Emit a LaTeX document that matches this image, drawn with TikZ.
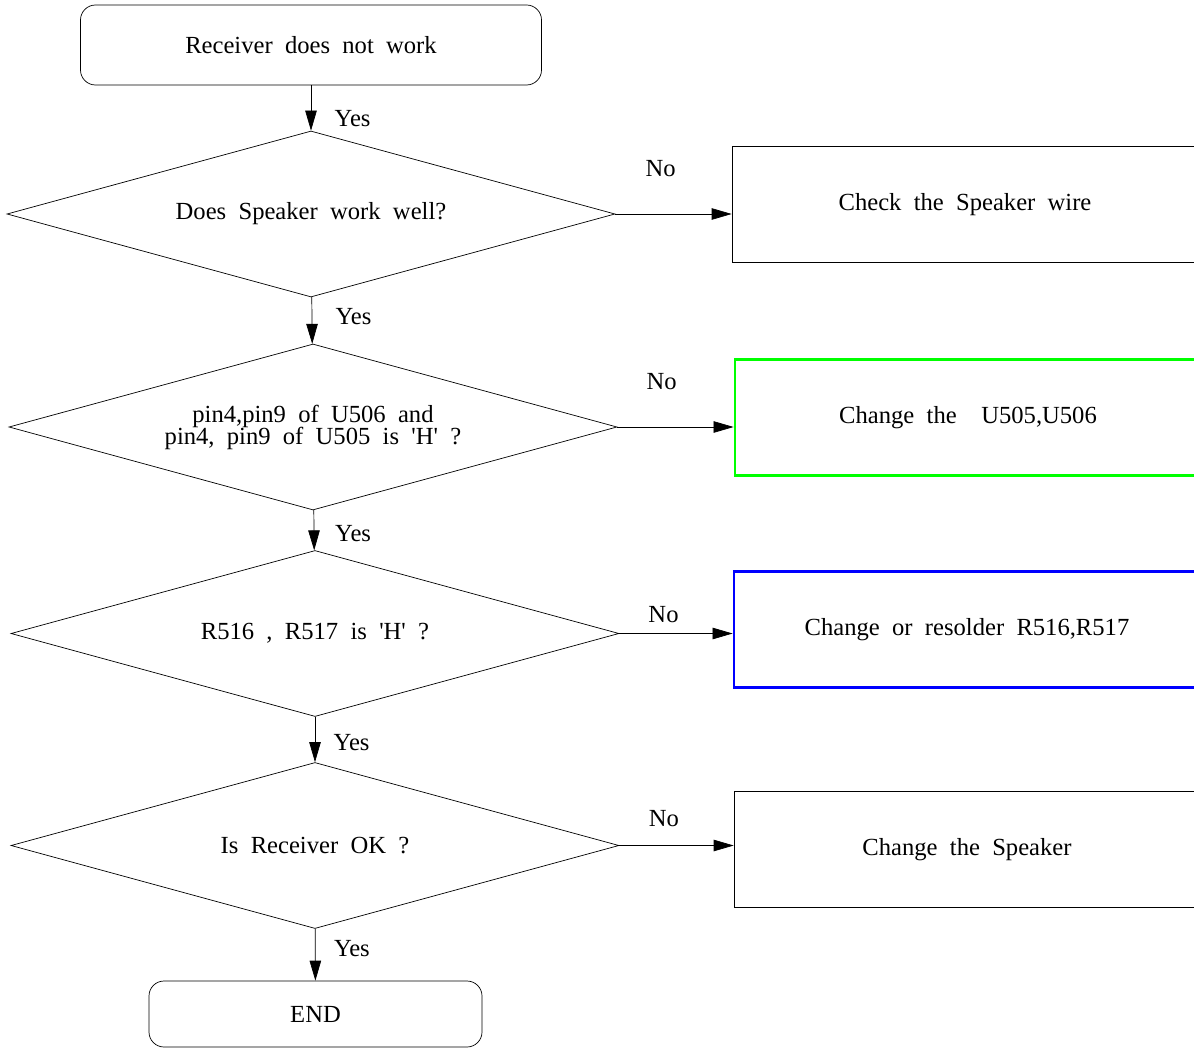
\documentclass[tikz,border=0pt]{standalone}
\usepackage{fontspec}
\setmainfont[WordSpace=2]{Liberation Serif}
\usepackage{tikz}
\usetikzlibrary{shapes.geometric, positioning, arrows.meta, calc}
\newcommand\tightlines{\lineskiplimit -8pt\relax}

\begin{document}
\begin{tikzpicture}[
            term/.style={rectangle, rounded corners=0.3cm, draw, thin,
                         font=\fontsize{14}{16}\selectfont, align=center},
            test/.style={diamond, draw, thin, inner sep=0pt, aspect=3.66,
                         minimum width=12.16cm, minimum height=3.32cm,
                         font=\fontsize{14}{12.5}\selectfont\tightlines, align=center},
            fix/.style={rectangle, draw, minimum width=9.32cm, minimum height=2.32cm,
                        font=\fontsize{14}{16}\selectfont, align=center},
            arr/.style={-{Triangle[length=4mm, width=2.3mm]}, thin},
            lbl/.style={font=\fontsize{14}{16}\selectfont}
          ]
          \clip (0,0) rectangle (23.88,-20.96);
          % start / end
          \node[term, minimum width=9.22cm, minimum height=1.6cm] (start) at (6.22,-0.9) {Receiver does not work};
          \node[term, minimum width=6.66cm, minimum height=1.32cm] (fin) at (6.31,-20.28) {END};
          % checks
          \node[test] (spk)  at (6.22,-4.28)  {Does Speaker work well?};
          \node[test] (pins) at (6.26,-8.54)  {pin4,pin9 of U506 and\\pin4, pin9 of U505 is \textquotesingle H\textquotesingle\ ?};
          \node[test] (res)  at (6.30,-12.67) {R516 , R517 is \textquotesingle H\textquotesingle\ ?};
          \node[test] (rcv)  at (6.30,-16.91) {Is Receiver OK ?};
          % repairs
          \node[fix] (wire)  at (19.30,-4.09)  {Check the Speaker wire};
          \node[fix, draw=green, line width=1.6pt] (chip) at (19.36,-8.35) {Change the~~U505,U506};
          \node[fix, draw=blue, line width=1.6pt]  (sold) at (19.34,-12.59) {Change or resolder R516,R517};
          \node[fix] (spkr)  at (19.34,-16.99) {Change the Speaker};

          \draw[arr] (start) -- node[lbl, pos=0.74, right=0.35cm] {Yes} (spk);
          \draw[arr] (spk)   -- node[lbl, pos=0.41, right=0.35cm] {Yes} (pins);
          \draw[arr] (pins)  -- node[lbl, pos=0.58, right=0.3cm] {Yes} (res);
          \draw[arr] (res)   -- node[lbl, pos=0.57, right=0.25cm] {Yes} (rcv);
          \draw[arr] (rcv)   -- node[lbl, pos=0.38, right=0.25cm] {Yes} (fin);

          \draw[arr] (spk.east)  -- node[lbl, pos=0.39, above=0.62cm] {No} (spk.east -| wire.west);
          \draw[arr] (pins.east) -- node[lbl, pos=0.38, above=0.62cm] {No} (pins.east -| chip.west);
          \draw[arr] (res.east)  -- node[lbl, pos=0.39, above=0.1cm]  {No} (res.east -| sold.west);
          \draw[arr] (rcv.east)  -- node[lbl, pos=0.39, above=0.25cm] {No} (rcv.east -| spkr.west);
        \end{tikzpicture}
\end{document}
